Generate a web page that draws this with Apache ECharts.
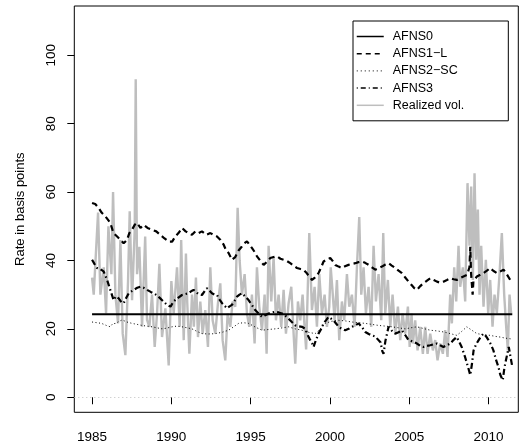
<!DOCTYPE html>
<html>
<head>
<meta charset="utf-8">
<script src="https://cdn.jsdelivr.net/npm/echarts@6/dist/echarts.min.js"></script>
<style>
html,body{margin:0;padding:0;background:#fff;}
#chart{width:521px;height:447px;}
</style>
</head>
<body>
<div id="chart"></div>
<script>
// ---- data (decimal year, basis points) ----
const seriesNames = ['AFNS0', 'AFNS1\u2212L', 'AFNS2\u2212SC', 'AFNS3', 'Realized vol.'];
const xTicks = [1985, 1990, 1995, 2000, 2005, 2010];
const yTicks = [0, 20, 40, 60, 80, 100];
const zeroLine = 0;

const afns0 = [[1985.0, 24.3], [2011.5, 24.3]];

const afns1L = [[1985.0,56.8],[1985.2,56.5],[1985.42,55.3],[1985.6,54],[1985.84,52.9],[1986.15,51],[1986.35,48],[1986.58,47],[1986.8,46],[1986.99,45],[1987.2,46],[1987.35,48],[1987.52,49],[1987.7,50.5],[1987.84,51],[1988.05,49.5],[1988.25,50.4],[1988.5,49.5],[1988.78,49],[1989.05,48.5],[1989.3,47.5],[1989.55,46.5],[1989.83,45.5],[1990.05,45.5],[1990.25,47],[1990.45,48],[1990.67,49.5],[1990.9,48.5],[1991.09,48],[1991.3,47.5],[1991.51,48.5],[1991.72,48],[1991.93,48.5],[1992.2,47.5],[1992.46,48],[1992.65,47.5],[1992.88,47],[1993.1,46],[1993.3,44.6],[1993.45,43],[1993.61,42.2],[1993.82,40.2],[1994.03,41],[1994.25,43],[1994.45,44.1],[1994.6,45],[1994.77,45.6],[1994.95,44.5],[1995.09,43.6],[1995.25,42.5],[1995.4,41.2],[1995.6,40],[1995.82,38.7],[1996.0,39.5],[1996.24,40.7],[1996.45,41],[1996.66,41.2],[1996.88,40.5],[1997.08,40.2],[1997.3,39.8],[1997.5,39.2],[1997.7,38.5],[1997.92,37.8],[1998.15,37.5],[1998.34,37.3],[1998.5,36.5],[1998.7,35.3],[1998.87,34.3],[1999.05,35],[1999.28,36.3],[1999.45,38],[1999.6,39.7],[1999.8,40.3],[2000.02,40.7],[2000.18,39.8],[2000.34,38.7],[2000.55,38.2],[2000.76,37.8],[2000.95,38.3],[2001.17,38.7],[2001.4,39],[2001.6,39.2],[2001.8,39.5],[2002.02,39.7],[2002.22,39.3],[2002.44,38.7],[2002.65,38],[2002.86,37.3],[2003.05,37.7],[2003.28,38.2],[2003.5,38.8],[2003.7,39.2],[2003.9,38.5],[2004.12,37.8],[2004.33,37],[2004.54,36.3],[2004.75,35],[2004.96,33.8],[2005.15,32.8],[2005.3,32],[2005.49,31.4],[2005.7,32.5],[2005.9,33.4],[2006.1,34],[2006.33,34.8],[2006.55,34.3],[2006.75,33.8],[2006.95,33.5],[2007.16,33.8],[2007.38,34.3],[2007.59,34.8],[2007.8,34.5],[2008.0,34.3],[2008.2,34.8],[2008.42,35.3],[2008.65,35.8],[2008.8,38],[2008.85,44],[2008.9,36.3],[2009.0,30],[2009.05,34],[2009.27,35.3],[2009.48,35.8],[2009.68,36.3],[2009.9,37],[2010.1,37.8],[2010.3,37],[2010.53,36.3],[2010.75,36.8],[2010.95,37.3],[2011.15,36],[2011.37,34.3],[2011.5,33.5]];

const afns2SC = [[1985.0,22],[1985.3,21.8],[1985.6,21.6],[1985.9,21],[1986.15,20.6],[1986.3,21.5],[1986.5,21.6],[1986.7,22.2],[1986.9,22.6],[1987.2,22],[1987.52,21.6],[1987.85,21.3],[1988.15,21],[1988.45,20.8],[1988.78,20.6],[1989.1,20.3],[1989.41,20],[1989.7,20.2],[1990.04,20.6],[1990.35,20.8],[1990.67,20.6],[1991.0,20.3],[1991.3,20],[1991.6,19.3],[1991.93,18.6],[1992.35,18.5],[1992.77,18.6],[1993.2,19],[1993.61,19.6],[1993.9,20.5],[1994.24,21.6],[1994.55,21.8],[1994.87,21.6],[1995.3,20.5],[1995.72,19.6],[1996.1,19.8],[1996.55,20],[1997.0,20.3],[1997.39,20.6],[1997.8,20],[1998.24,19.6],[1998.65,19],[1999.07,18.6],[1999.4,20],[1999.7,21.6],[2000.1,22.2],[2000.55,22.5],[2001.0,22.3],[2001.39,22],[2001.8,21.8],[2002.23,21.6],[2002.65,21.3],[2003.07,21],[2003.5,20.8],[2003.91,20.6],[2004.33,20.3],[2004.75,20],[2005.1,20.3],[2005.49,20.6],[2005.9,20.1],[2006.33,19.6],[2006.75,19.4],[2007.16,19.1],[2007.6,18.6],[2008.0,18.1],[2008.3,19.2],[2008.63,20.6],[2008.95,19.6],[2009.27,18.6],[2009.7,18.3],[2010.1,18.1],[2010.42,17.8],[2010.74,17.6],[2011.05,17.3],[2011.37,17.1],[2011.5,17]];

const afns3 = [[1985.0,40.2],[1985.15,39],[1985.31,37.8],[1985.5,37.5],[1985.73,36.8],[1985.95,34.3],[1986.15,31.4],[1986.36,28.4],[1986.5,29.5],[1986.68,28.9],[1986.85,27.8],[1986.99,27.5],[1987.15,29],[1987.31,30.4],[1987.62,31.4],[1987.85,32],[1988.04,32.3],[1988.25,32],[1988.47,31.4],[1988.7,30.8],[1988.88,30.4],[1989.1,29.8],[1989.3,28.9],[1989.5,28],[1989.73,27],[1989.95,26.5],[1990.14,28],[1990.4,29],[1990.67,29.9],[1990.9,30.2],[1991.09,30.4],[1991.25,31],[1991.4,31.4],[1991.51,30.9],[1991.7,30.2],[1991.93,29.9],[1992.1,31],[1992.25,31.9],[1992.4,31.2],[1992.56,30.4],[1992.72,30],[1992.88,29.9],[1993.05,28.5],[1993.2,27.5],[1993.35,26.8],[1993.51,26],[1993.65,26.5],[1993.82,27],[1994.0,28.3],[1994.14,29.4],[1994.3,30],[1994.45,30.4],[1994.65,29.5],[1994.87,28.4],[1995.08,27],[1995.29,25.5],[1995.5,24.5],[1995.72,23.5],[1995.92,24],[1996.13,24.5],[1996.35,24.8],[1996.55,25],[1996.77,24.8],[1996.98,24.5],[1997.2,23.8],[1997.39,23],[1997.6,22],[1997.82,21],[1998.0,20.8],[1998.24,20.6],[1998.45,20],[1998.62,18],[1998.76,16.7],[1998.9,15.5],[1998.97,14.7],[1999.1,16.5],[1999.28,18.6],[1999.45,20],[1999.6,21.6],[1999.75,22.5],[1999.91,23.5],[2000.07,23],[2000.23,22.5],[2000.4,21.5],[2000.55,20.6],[2000.75,20],[2000.97,19.6],[2001.18,20],[2001.39,20.6],[2001.6,21],[2001.81,21.6],[2002.02,20.5],[2002.23,19.1],[2002.45,18.5],[2002.65,18.1],[2002.85,17.8],[2002.97,17.6],[2003.2,16],[2003.3,13.5],[2003.38,12.7],[2003.5,16.5],[2003.7,20.6],[2003.9,19.5],[2004.12,18.6],[2004.33,19],[2004.54,19.6],[2004.75,18.2],[2004.96,16.7],[2005.1,16.5],[2005.27,16.2],[2005.49,15.7],[2005.7,15],[2005.9,14.7],[2006.1,15],[2006.33,15.2],[2006.55,15.5],[2006.75,15.7],[2006.95,15.2],[2007.16,14.7],[2007.38,15.2],[2007.59,15.7],[2007.8,16.8],[2008.0,17.6],[2008.15,16.2],[2008.31,14.7],[2008.52,11.8],[2008.7,9],[2008.85,6.5],[2008.95,9.5],[2009.06,13.7],[2009.22,15.5],[2009.38,16.7],[2009.53,17.8],[2009.68,18.6],[2009.85,17.8],[2010.0,16.7],[2010.15,15.5],[2010.31,13.7],[2010.47,11],[2010.63,8.8],[2010.75,6.5],[2010.9,5.0],[2011.0,8.5],[2011.1,10.8],[2011.2,13],[2011.28,14.7],[2011.4,11.5],[2011.5,9]];

const realizedVol = [[1985.00,35],[1985.105,30],[1985.378,54],[1985.525,30],[1985.735,38],[1985.883,24.5],[1986.03,50],[1986.219,36],[1986.324,60],[1986.471,30],[1986.639,21.6],[1986.786,46],[1986.933,18.6],[1987.101,12.3],[1987.269,34],[1987.374,54.4],[1987.522,28.4],[1987.690,49],[1987.753,93],[1987.837,36],[1987.984,44],[1988.152,20.6],[1988.35,47],[1988.467,22.6],[1988.614,20.6],[1988.782,30],[1988.950,14.7],[1989.098,24.5],[1989.245,39],[1989.413,17.6],[1989.623,26],[1989.833,9.3],[1990.001,34],[1990.148,24.5],[1990.358,38],[1990.526,20.6],[1990.62,46],[1990.78,16.7],[1990.92,42],[1991.0,28],[1991.136,12.7],[1991.304,30],[1991.42,20.6],[1991.55,35],[1991.679,17.6],[1991.826,28],[1991.973,18.6],[1992.141,25.5],[1992.309,14.7],[1992.457,38],[1992.604,22.5],[1992.772,18.6],[1992.940,27.5],[1993.087,33.3],[1993.234,16.7],[1993.402,10.8],[1993.549,24.5],[1993.717,20.6],[1993.864,28],[1994.033,26.5],[1994.180,55.4],[1994.306,40],[1994.453,30],[1994.621,36],[1994.768,24.5],[1994.915,20.6],[1995.083,30],[1995.251,15.7],[1995.398,38],[1995.545,26.5],[1995.714,19.6],[1995.882,30],[1996.008,12.7],[1996.134,44.3],[1996.302,28],[1996.449,41],[1996.596,22.5],[1996.764,30],[1996.932,20.6],[1997.080,31.4],[1997.227,18.6],[1997.395,27.5],[1997.563,32.3],[1997.710,18.6],[1997.815,9.8],[1997.983,28],[1998.130,22.5],[1998.277,30],[1998.40,20.6],[1998.50,14],[1998.698,48],[1998.866,25.5],[1999.034,32.3],[1999.181,20.6],[1999.329,36],[1999.497,24.5],[1999.665,30],[1999.812,20.6],[1999.959,26.5],[2000.05,38],[2000.15,32],[2000.295,22.5],[2000.442,34.3],[2000.589,16.7],[2000.757,28],[2000.904,22.5],[2001.073,36],[2001.220,26.5],[2001.388,30],[2001.556,20.6],[2001.703,38],[2001.850,52.7],[2001.976,30],[2002.123,38],[2002.270,24.5],[2002.438,32.3],[2002.606,20.6],[2002.754,44.3],[2002.901,28],[2003.069,36],[2003.237,22.5],[2003.363,48],[2003.489,24.5],[2003.657,34.3],[2003.804,20.6],[2003.951,30],[2004.120,18.6],[2004.288,26.5],[2004.435,16.7],[2004.582,24.5],[2004.750,18.6],[2004.918,26.5],[2005.03,14.7],[2005.15,24.5],[2005.232,15.7],[2005.379,22.5],[2005.526,13.7],[2005.694,20.6],[2005.862,12.7],[2006.010,20.6],[2006.157,12.7],[2006.325,18.6],[2006.493,13.7],[2006.640,16.7],[2006.787,10.8],[2006.955,15.7],[2007.123,12.7],[2007.270,19.6],[2007.417,11.8],[2007.586,30],[2007.691,21.6],[2007.838,38],[2007.964,28],[2008.111,44.3],[2008.216,32.3],[2008.384,38],[2008.531,28],[2008.678,62.6],[2008.804,44.3],[2008.909,61.6],[2009.014,34.3],[2009.120,65.5],[2009.225,40.2],[2009.330,54.9],[2009.435,30],[2009.540,44.3],[2009.687,26.5],[2009.834,40.2],[2009.981,24.5],[2010.107,34.3],[2010.254,20.6],[2010.380,30],[2010.527,24.5],[2010.695,36],[2010.842,48],[2010.990,30],[2011.116,20.6],[2011.221,13.7],[2011.326,30],[2011.431,24.5]];

// ---- styles ----
const FONT = 'Liberation Sans, Arial, Helvetica, sans-serif';
const GREY = '#bebebe';
const styles = {
  'AFNS0': {type: 'solid', width: 2},
  'AFNS1\u2212L': {type: [6, 4], width: 2.2},
  'AFNS2\u2212SC': {type: [1, 2.5], width: 1},
  'AFNS3': {type: [6, 3, 1.5, 3], width: 2.2},
  'Realized vol.': {type: 'solid', width: 2.4}
};
const legendStyles = {
  'AFNS0': {type: 'solid', width: 1.5},
  'AFNS1\u2212L': {type: [5, 4], width: 1.5},
  'AFNS2\u2212SC': {type: [1, 3], width: 1},
  'AFNS3': {type: [1, 3, 5, 3], width: 1.5},
  'Realized vol.': {type: 'solid', width: 1.5}
};

function lineSeries(name, data, color, extra) {
  return Object.assign({
    name: name,
    type: 'line',
    data: data,
    showSymbol: false,
    symbol: 'none',
    animation: false,
    silent: true,
    lineStyle: {color: color, width: styles[name].width, type: styles[name].type},
    itemStyle: {color: color}
  }, extra || {});
}

const chart = echarts.init(document.getElementById('chart'), null, {renderer: 'canvas'});
chart.setOption({
  backgroundColor: '#fff',
  animation: false,
  textStyle: {fontFamily: FONT},
  grid: {
    left: 74.3, right: 2.7, top: 6, bottom: 34.7,
    show: true, borderColor: '#000', borderWidth: 1, backgroundColor: 'transparent'
  },
  xAxis: {
    type: 'value',
    min: 1983.88, max: 2011.88,
    axisLine: {show: false},
    splitLine: {show: false},
    axisTick: {show: true, inside: false, length: 7, lineStyle: {color: '#000', width: 1}, customValues: xTicks},
    axisLabel: {color: '#000', fontSize: 13.5, fontFamily: FONT, margin: 18, customValues: xTicks,
      formatter: v => String(v)}
  },
  yAxis: {
    type: 'value',
    min: -4.4, max: 114.4,
    name: 'Rate in basis points',
    nameLocation: 'middle',
    nameGap: 47,
    nameTextStyle: {color: '#000', fontSize: 13, fontFamily: FONT},
    axisLine: {show: false},
    splitLine: {show: false},
    axisTick: {show: true, inside: false, length: 7, lineStyle: {color: '#000', width: 1}, customValues: yTicks},
    axisLabel: {color: '#000', fontSize: 13.5, fontFamily: FONT, margin: 16, rotate: 90, customValues: yTicks,
      formatter: v => String(v)}
  },
  legend: {
    orient: 'vertical',
    left: 353, top: 21,
    padding: [9, 44, 9, 3],
    itemWidth: 27, itemHeight: 12, itemGap: 4.2,
    borderColor: '#000', borderWidth: 1, borderRadius: 0,
    backgroundColor: '#fff',
    selectedMode: false,
    itemStyle: {opacity: 0},
    textStyle: {color: '#000', fontSize: 12.5, fontFamily: FONT, lineHeight: 12, padding: [0, 0, 0, 4]},
    data: seriesNames.map(n => ({
      name: n,
      lineStyle: {color: n === 'Realized vol.' ? GREY : '#000', width: legendStyles[n].width, type: legendStyles[n].type}
    }))
  },
  series: [
    lineSeries('Realized vol.', realizedVol, GREY),
    lineSeries('AFNS2\u2212SC', afns2SC, '#000'),
    lineSeries('AFNS3', afns3, '#000'),
    lineSeries('AFNS1\u2212L', afns1L, '#000'),
    lineSeries('AFNS0', afns0, '#000', {
      markLine: {
        silent: true, symbol: 'none', animation: false,
        label: {show: false},
        lineStyle: {color: GREY, type: [1, 3], width: 1},
        data: [{yAxis: zeroLine}]
      }
    })
  ]
});
</script>
</body>
</html>
